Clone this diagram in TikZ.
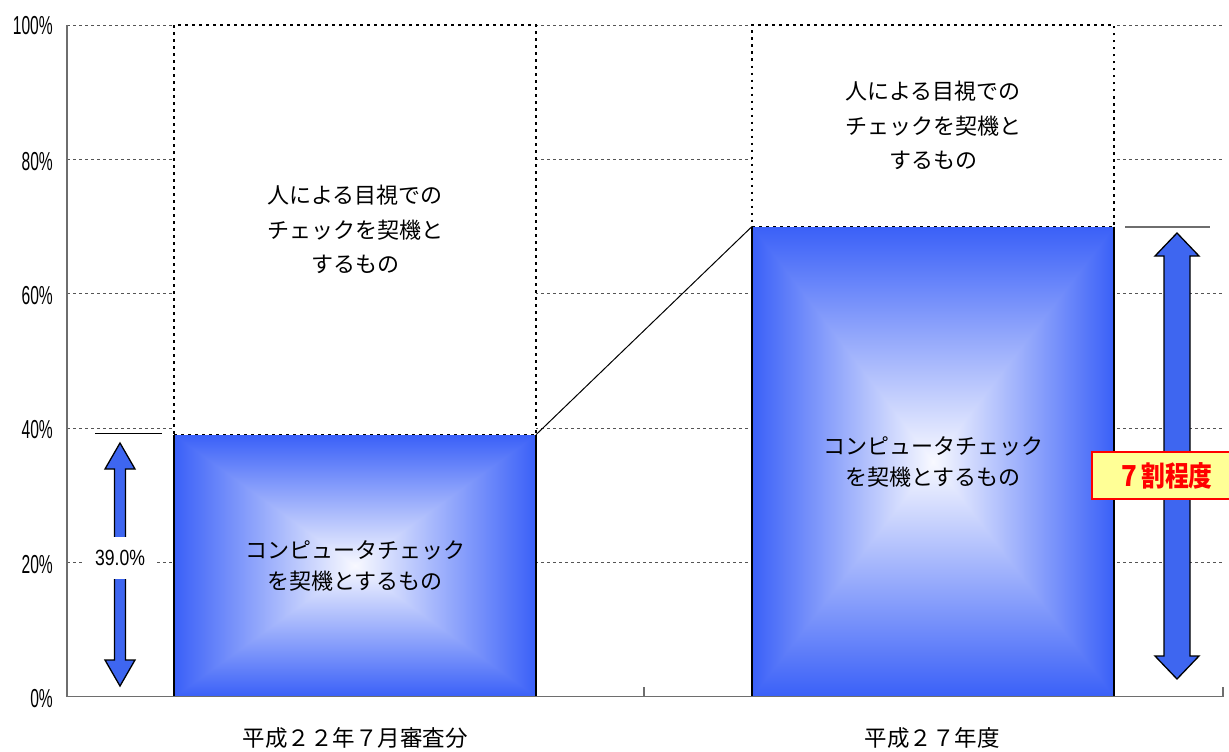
\documentclass[tikz,border=0pt]{standalone}
\usepackage{fontspec}
\newfontfamily\jp{Noto Sans CJK JP}
\newfontfamily\labfont{Liberation Sans}
\definecolor{barblue}{RGB}{58,96,248}
\definecolor{barwhite}{RGB}{248,249,255}
\definecolor{arrowblue}{RGB}{62,102,240}
\definecolor{gridgray}{RGB}{85,85,85}
\definecolor{axisgray}{RGB}{110,110,110}
\definecolor{boxyellow}{RGB}{255,255,150}
\newcommand\dblarrow[7]{%
  \draw[#7] (#1,#2) -- ({#1+#4},{#2+#5}) -- ({#1+#6},{#2+#5}) -- ({#1+#6},{#3-#5})
    -- ({#1+#4},{#3-#5}) -- (#1,#3) -- ({#1-#4},{#3-#5}) -- ({#1-#6},{#3-#5})
    -- ({#1-#6},{#2+#5}) -- ({#1-#4},{#2+#5}) -- cycle;}
\tikzset{
  gridline/.style={draw=gridgray, line width=0.8pt, dash pattern=on 3pt off 3pt},
  axisline/.style={draw=axisgray, line width=1.3pt},
  pct/.style={font=\labfont\fontsize{26}{26}\selectfont, inner sep=0pt, anchor=east},
  barlow/.style={inner sep=0pt, outer sep=0pt, anchor=south west, minimum width=362pt,
    align=center, font=\jp\fontsize{22}{31}\selectfont,
    path picture={
      \path (path picture bounding box.north west) coordinate (q1)
            (path picture bounding box.north east) coordinate (q2)
            (path picture bounding box.south east) coordinate (q3)
            (path picture bounding box.south west) coordinate (q4)
            (path picture bounding box.center) coordinate (q0)
            (path picture bounding box.east) coordinate (qe)
            (path picture bounding box.west) coordinate (qw);
      \shade[top color=barblue, bottom color=barwhite] (q1) rectangle (qe);
      \shade[bottom color=barblue, top color=barwhite] (qw) rectangle (q3);
      \shade[left color=barblue, right color=barwhite] (q1) -- (q4) -- (q0) -- cycle;
      \shade[right color=barblue, left color=barwhite] (q2) -- (q3) -- (q0) -- cycle;
    }},
  barup/.style={draw=black, fill=white, line width=1.3pt, dash pattern=on 2.5pt off 4.5pt,
    inner sep=0pt, outer sep=0pt, anchor=south west, minimum width=362pt,
    align=center, font=\jp\fontsize{22}{34.5}\selectfont},
  baredge/.style={draw=black, line width=1.6pt},
  blockarrow/.style={draw=black, line width=1.3pt, fill=arrowblue, line join=miter},
  catlabel/.style={font=\jp\fontsize{22.5}{22.5}\selectfont, inner sep=0pt},
  refline/.style={draw=black, line width=1.2pt},
}
\begin{document}
\begin{tikzpicture}[x=1pt,y=-1pt]
\useasboundingbox[fill=white] (0,0) rectangle (1229,752);
% gridlines
\foreach \yy in {562.4,428.0,293.7,159.3,25.0}{
  \draw[gridline] (67,\yy) -- (1223,\yy);
}
% axis coordinates
\coordinate (o) at (67,696.7);
\coordinate (ytop) at (67,25);
\coordinate (xend) at (1223,696.7);
\coordinate (tickA) at (644,696.7);
\coordinate (tickAt) at (644,687);
\coordinate (tickB) at (1223,687);
% percent labels
\node[pct] (p100) at (53,26) {\scalebox{0.6}[1]{100\%}};
\node[pct] (p80) at (53,161.5) {\scalebox{0.6}[1]{80\%}};
\node[pct] (p60) at (53,295.5) {\scalebox{0.6}[1]{60\%}};
\node[pct] (p40) at (53,430) {\scalebox{0.6}[1]{40\%}};
\node[pct] (p20) at (53,564.5) {\scalebox{0.6}[1]{20\%}};
\node[pct] (p0) at (53,698.5) {\scalebox{0.6}[1]{0\%}};
% bars
\node[barlow, minimum height=262pt] (lbar) at (174,696.7) {コンピュータチェック\\を契機とするもの};
\node[barup, minimum height=409.7pt] (lup) at (lbar.north west) {人による目視での\\チェックを契機と\\するもの};
\node[barlow, minimum height=470.2pt] (rbar) at (752,696.7) {コンピュータチェック\\を契機とするもの};
\node[barup, minimum height=201.5pt] (rup) at (rbar.north west) {人による目視での\\チェックを契機と\\するもの};
\draw[baredge] (lbar.south west) -- (lbar.north west);
\draw[baredge] (lbar.south east) -- (lbar.north east);
\draw[baredge] (rbar.south west) -- (rbar.north west);
\draw[baredge] (rbar.south east) -- (rbar.north east);
% connector
\draw[line width=1pt] (lbar.north east) -- (rbar.north west);
% axes
\draw[axisline] (ytop) -- (o) -- (xend);
\draw[axisline] (tickA) -- (tickAt);
\draw[axisline] (xend) -- (tickB);
% category labels
\node[catlabel] (catL) at (355,738) {平成２２年７月審査分};
\node[catlabel] (catR) at (932,738) {平成２７年度};
% left arrow and reference line
\coordinate (lrefA) at (95,433.5);
\coordinate (lrefB) at (162,433.5);
\draw[refline] (lrefA) -- (lrefB);
\dblarrow{120}{443}{686}{15}{26}{5.5}{blockarrow}
\node[fill=white, minimum width=72pt, minimum height=42pt, inner sep=0pt,
      font=\labfont\fontsize{22}{22}\selectfont] (v39) at (120,558) {\scalebox{0.8}[1]{39.0\%}};
% right arrow and reference line
\coordinate (rrefA) at (1125,227);
\coordinate (rrefB) at (1210,227);
\draw[refline, draw=axisgray] (rrefA) -- (rrefB);
\dblarrow{1177}{233}{679}{22}{23}{13}{blockarrow}
\node[draw=red, line width=1.6pt, fill=boxyellow, minimum width=146pt, minimum height=47pt,
      inner sep=0pt, text=red, font=\jp\bfseries\fontsize{28}{28}\selectfont] (share) at (1165,475.5)
      {\scalebox{0.85}[1]{７割程度}};
\end{tikzpicture}
\end{document}
